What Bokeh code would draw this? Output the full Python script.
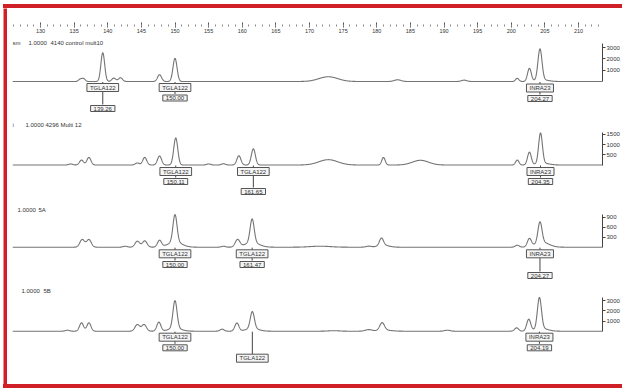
import numpy as np
from bokeh.plotting import figure
from bokeh.models import (Range1d, LinearAxis, FixedTicker, SingleIntervalTicker, Div)
from bokeh.layouts import column, row
from bokeh.embed import file_html
from bokeh.resources import INLINE
from bokeh.core.properties import value

FONT = "Liberation Sans"
TRACE = "#747474"
INK = "#333333"
RED = "#cf2027"

# ---------------- data ----------------
# size ruler (bp)
ruler_major = 5
ruler_minor = 5

# sample headers
s1_header = ["sm", "1.0000", "4140 control mult10"]
s2_header = ["i", "1.0000", "4296 Multi 12"]
s3_header = ["1.0000", "5A"]
s4_header = ["1.0000", "5B"]

# peaks of each trace: position (bp), height (RFU), width (bp)
s1_pos = [135.9, 136.4, 139.26, 140.9, 141.9, 147.7, 150.00, 172.8, 183.1, 193.0, 200.9, 202.7, 204.27, 204.6]
s1_hgt = [200, 250, 2550, 300, 330, 600, 2050, 420, 150, 120, 280, 1150, 2750, 150]
s1_wid = [0.25, 0.25, 0.28, 0.3, 0.3, 0.3, 0.3, 1.4, 0.5, 0.4, 0.25, 0.28, 0.3, 0.9]

s2_pos = [134.5, 136.1, 137.2, 144.4, 145.5, 147.7, 150.11, 155.0, 157.2, 159.5, 161.65,
          172.8, 181.0, 186.5, 200.9, 202.7, 204.35, 204.7]
s2_hgt = [50, 240, 370, 100, 370, 440, 1320, 50, 60, 450, 790,
          260, 370, 230, 240, 620, 1480, 90]
s2_wid = [0.3, 0.3, 0.3, 0.3, 0.3, 0.3, 0.3, 0.3, 0.3, 0.3, 0.3,
          1.4, 0.25, 1.2, 0.25, 0.28, 0.28, 0.9]

s3_pos = [136.2, 137.2, 142.6, 144.4, 145.5, 147.7, 150.00, 150.00, 157.2, 159.3, 161.47, 161.47,
          171.6, 178.8, 180.7, 181.0, 200.9, 202.7, 204.27, 204.6]
s3_hgt = [230, 230, 30, 180, 190, 200, 820, 160, 30, 220, 700, 150,
          30, 30, 220, 60, 60, 240, 620, 150]
s3_wid = [0.35, 0.35, 0.3, 0.35, 0.35, 0.3, 0.3, 1.0, 0.3, 0.35, 0.3, 1.0,
          1.5, 0.4, 0.3, 0.8, 0.3, 0.3, 0.3, 1.0]

s4_pos = [134.0, 136.1, 137.2, 144.4, 145.4, 147.6, 150.00, 150.00, 157.0, 159.2, 161.5, 161.5,
          173.6, 178.8, 180.8, 181.2, 190.5, 200.8, 202.6, 204.19, 204.5]
s4_hgt = [100, 820, 820, 650, 650, 880, 2700, 300, 200, 800, 1650, 280,
          50, 150, 750, 100, 100, 330, 1150, 3050, 280]
s4_wid = [0.3, 0.3, 0.3, 0.35, 0.35, 0.3, 0.3, 0.9, 0.3, 0.3, 0.3, 0.9,
          0.8, 0.5, 0.35, 1.0, 0.4, 0.3, 0.3, 0.3, 0.9]

# allele calls: position, marker, called size ("" when not sized)
s1_call_pos = [139.26, 150.00, 204.27]
s1_call_marker = ["TGLA122", "TGLA122", "INRA23"]
s1_call_size = ["139.26", "150.00", "204.27"]

s2_call_pos = [150.11, 161.65, 204.35]
s2_call_marker = ["TGLA122", "TGLA122", "INRA23"]
s2_call_size = ["150.11", "161.65", "204.35"]

s3_call_pos = [150.00, 161.47, 204.27]
s3_call_marker = ["TGLA122", "TGLA122", "INRA23"]
s3_call_size = ["150.00", "161.47", "204.27"]

s4_call_pos = [150.00, 161.5, 204.19]
s4_call_marker = ["TGLA122", "TGLA122", "INRA23"]
s4_call_size = ["150.00", "", "204.19"]

# RFU scale ticks
s1_rfu_ticks = [1000, 2000, 3000]
s2_rfu_ticks = [500, 1000, 1500]
s3_rfu_ticks = [300, 600, 900]
s4_rfu_ticks = [1000, 2000, 3000]

# ---------------- layout ----------------
W = 615            # width of the plotting column
EDGE = 4           # red frame thickness
LEFT, RIGHT = 5, 20
FRAME_W = W - LEFT - RIGHT
PX_PER_BP = 6.725
X_START = 130 - 28 / PX_PER_BP
X_END = X_START + FRAME_W / PX_PER_BP
xr = Range1d(X_START, X_END)


def img_x(px):
    """horizontal pixel position (page) -> bp"""
    return X_START + (px - 12) / PX_PER_BP


xs = np.linspace(X_START, X_END, 2600)


def trace(pos, hgt, wid):
    y = np.zeros_like(xs)
    for p, h, w in zip(pos, hgt, wid):
        y += h * np.exp(-0.5 * ((xs - p) / w) ** 2)
    return y


def side_strip(height):
    p = figure(width=EDGE, height=height, toolbar_location=None, output_backend="svg",
               x_axis_location=None, y_axis_location=None,
               x_range=Range1d(0, 1), y_range=Range1d(0, 1),
               min_border_left=0, min_border_right=0,
               min_border_top=0, min_border_bottom=0)
    p.outline_line_color = None
    p.grid.visible = False
    p.background_fill_color = RED
    p.border_fill_color = RED
    return p


def band(width):
    return Div(text="", width=width, height=EDGE, margin=(0, 0, 0, 0),
               styles={"background-color": RED})


def make_ruler():
    p = figure(width=W, height=27, x_range=xr, y_range=Range1d(0, 1),
               toolbar_location=None, output_backend="svg",
               x_axis_location=None, y_axis_location=None,
               min_border_left=LEFT, min_border_right=RIGHT,
               min_border_top=0, min_border_bottom=0)
    p.outline_line_color = None
    p.grid.visible = False
    ax = LinearAxis(ticker=SingleIntervalTicker(interval=ruler_major, num_minor_ticks=ruler_minor),
                    axis_line_color=None,
                    major_tick_in=3, major_tick_out=2,
                    minor_tick_in=1, minor_tick_out=1,
                    major_tick_line_color="#555555", minor_tick_line_color="#888888",
                    major_label_standoff=1,
                    major_label_text_font=FONT, major_label_text_font_size="5.5px",
                    major_label_text_color=INK)
    p.add_layout(ax, "below")
    rule = LinearAxis(ticker=FixedTicker(ticks=[]), axis_line_color="#444444",
                      major_tick_in=0, major_tick_out=0, minor_tick_in=0, minor_tick_out=0,
                      major_label_standoff=0, major_label_text_font_size="1px")
    p.add_layout(rule, "below")
    return p


def make_panel(h, base_off, k, header, header_px, header_dy,
               pos, hgt, wid, call_pos, call_marker, call_size,
               marker_dy, size_dy, rfu_ticks, rfu_top_px):
    u = 1000.0 / k  # RFU per pixel
    y_end = base_off * u
    y_start = -(h - base_off) * u
    p = figure(width=W, height=h, x_range=xr, y_range=Range1d(y_start, y_end),
               toolbar_location=None, output_backend="svg",
               x_axis_location=None, y_axis_location=None,
               min_border_left=LEFT, min_border_right=RIGHT,
               min_border_top=0, min_border_bottom=0)
    p.outline_line_color = None
    p.grid.visible = False

    p.line(xs, trace(pos, hgt, wid), line_color=TRACE, line_width=1.1)

    # RFU scale on the right
    ax = LinearAxis(ticker=FixedTicker(ticks=rfu_ticks), bounds=(0, rfu_top_px * u),
                    axis_line_color="#444444", major_tick_out=3, major_tick_in=0,
                    minor_tick_out=0, minor_tick_in=0,
                    major_tick_line_color="#444444",
                    major_label_standoff=1,
                    major_label_text_font=FONT, major_label_text_font_size="6px",
                    major_label_text_color=INK)
    p.add_layout(ax, "right")

    # sample header
    p.text(x=[img_x(v) for v in header_px], y=[(base_off - header_dy) * u] * len(header),
           text=header, text_font=value(FONT), text_font_size="6px",
           text_color=INK, text_align="left", text_baseline="middle")

    # allele call boxes and their leaders
    half = 4
    x0, y0, x1, y1 = [], [], [], []
    bx, by, bt = [], [], []
    for cp, mk, sz, mdy, sdy in zip(call_pos, call_marker, call_size, marker_dy, size_dy):
        x0.append(cp); x1.append(cp)
        y0.append(-0.5 * u); y1.append(-(mdy - half) * u)
        bx.append(cp); by.append(-mdy * u); bt.append(mk)
        if sz:
            x0.append(cp); x1.append(cp)
            y0.append(-(mdy + half) * u); y1.append(-(sdy - half) * u)
            bx.append(cp); by.append(-sdy * u); bt.append(sz)
    p.segment(x0, y0, x1, y1, line_color="#444444", line_width=1)
    p.text(x=bx, y=by, text=bt, text_font=value(FONT), text_font_size="6px",
           text_color=INK, text_align="center", text_baseline="middle",
           background_fill_color="#f4f4f4", border_line_color="#555555",
           border_line_width=1, padding=dict(left=3, right=3, top=1, bottom=1))
    return p


ruler = make_ruler()

p1 = make_panel(83, 46, 11.3, s1_header, [12, 28, 50], 7,
                s1_pos, s1_hgt, s1_wid, s1_call_pos, s1_call_marker, s1_call_size,
                [6, 6, 6.5], [27, 16.5, 17], s1_rfu_ticks, 38)
p2 = make_panel(83, 46.5, 20.5, s2_header, [12, 25, 45], 6,
                s2_pos, s2_hgt, s2_wid, s2_call_pos, s2_call_marker, s2_call_size,
                [6.5, 6.5, 6.5], [16.5, 26.5, 16.5], s2_rfu_ticks, 32.8)
p3 = make_panel(83, 45.7, 33.3, s3_header, [17, 38], 8,
                s3_pos, s3_hgt, s3_wid, s3_call_pos, s3_call_marker, s3_call_size,
                [6.6, 6.6, 6.6], [17.3, 17.3, 28.3], s3_rfu_ticks, 32.7)
p4 = make_panel(100, 46.7, 10.2, s4_header, [21, 43], 6,
                s4_pos, s4_hgt, s4_wid, s4_call_pos, s4_call_marker, s4_call_size,
                [6, 27, 6], [16.6, 0, 16.6], s4_rfu_ticks, 33.7)

body_h = 27 + 83 + 83 + 83 + 100
plots = column(ruler, p1, p2, p3, p4, spacing=0)
middle = row(side_strip(body_h), plots, spacing=0)
layout = column(band(W + EDGE), middle, band(W + EDGE),
                spacing=0, margin=(4, 0, 1, 3))

open("out.html", "w").write(file_html(layout, INLINE))
